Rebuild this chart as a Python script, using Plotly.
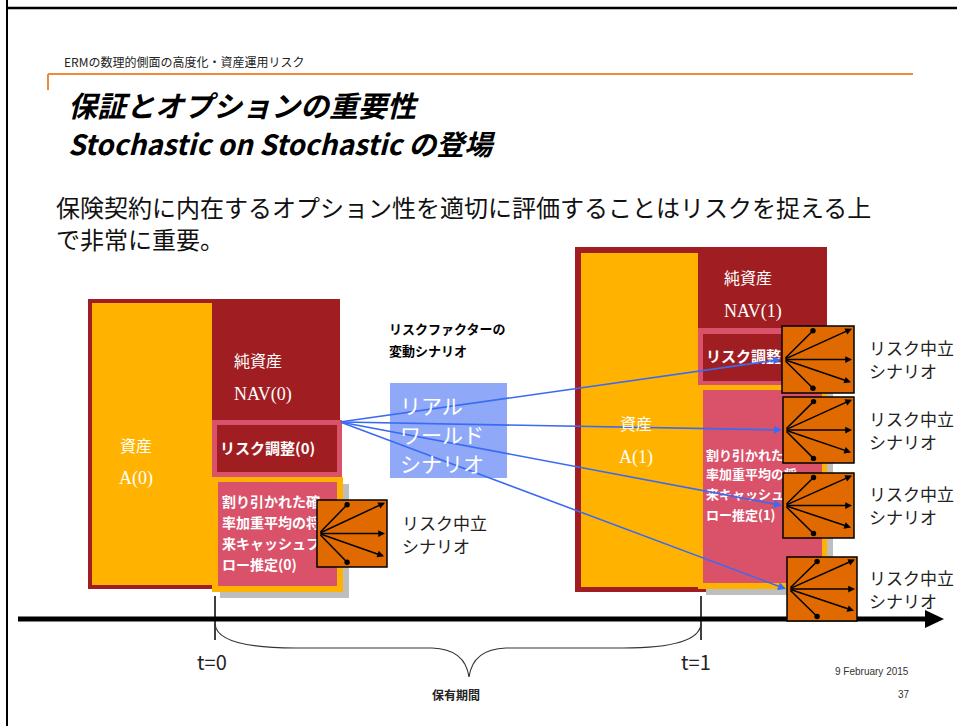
import plotly.graph_objects as go

# ---- text content ----
header_text = "ERMの数理的側面の高度化・資産運用リスク"
title_lines = ["保証とオプションの重要性", "Stochastic on Stochastic の登場"]
body_lines = ["保険契約に内在するオプション性を適切に評価することはリスクを捉える上",
              "で非常に重要。"]
asset_labels = ["資産", "資産"]
asset_codes = ["A(0)", "A(1)"]
nav_labels = ["純資産", "純資産"]
nav_codes = ["NAV(0)", "NAV(1)"]
risk_adj_labels = ["リスク調整(0)", "リスク調整(1)"]
cf_lines_t0 = ["割り引かれた確", "率加重平均の将", "来キャッシュフ", "ロー推定(0)"]
cf_lines_t1 = ["割り引かれた確", "率加重平均の将", "来キャッシュフ", "ロー推定(1)"]
factor_title = ["リスクファクターの", "変動シナリオ"]
real_world = ["リアル", "ワールド", "シナリオ"]
rn_label = ["リスク中立", "シナリオ"]
time_labels = ["t=0", "t=1"]
period_label = "保有期間"
date_label = "9 February 2015"
page_label = "37"

# ---- styles ----
JP = "Noto Sans CJK JP"
SERIF = "Liberation Serif"
YEL = "#FFB300"
DRED = "#A01E22"
PINK = "#D9526A"
GRAY = "#BEBEBE"
ORNG = "#E06A00"
BLUE_BOX = "#8FA9F8"
BLUE_LN = "#3B6BF2"

shapes = []
ann = []


def rect(x0, y0, x1, y1, fill, layer="below", line=None):
    shapes.append(dict(type="rect", xref="x", yref="y", x0=x0, y0=y0, x1=x1, y1=y1,
                       fillcolor=fill, layer=layer,
                       line=line if line else dict(width=0)))


def text(x, y, s, size, color="black", family=JP, xanchor="left", yanchor="middle"):
    ann.append(dict(x=x, y=y, xref="x", yref="y", text=s, showarrow=False,
                    font=dict(size=size, color=color, family=family),
                    xanchor=xanchor, yanchor=yanchor))


# page frame
shapes.append(dict(type="line", x0=7, y0=0, x1=7, y1=726, line=dict(color="black", width=2)))
shapes.append(dict(type="line", x0=7, y0=8, x1=957, y1=8, line=dict(color="black", width=2.5)))
# orange header rule
shapes.append(dict(type="line", x0=48, y0=74, x1=913, y1=74, line=dict(color="#F0893A", width=2)))
shapes.append(dict(type="line", x0=48, y0=74, x1=48, y1=90, line=dict(color="#F0893A", width=2)))

# ---- left block (t=0) ----
rect(88, 299, 340, 589, DRED)
rect(92, 303, 212, 585, YEL)
rect(212, 420, 342, 477, PINK)
rect(217, 425, 337, 472, DRED)
rect(220, 484, 349, 598, GRAY)
rect(212, 477, 343, 592, YEL)
rect(218, 482, 337, 586, PINK)

# ---- right block (t=1) ----
rect(575, 247, 827, 592, DRED)
rect(581, 253, 698, 587, YEL)
rect(698, 328, 826, 385, PINK)
rect(703, 334, 821, 381, DRED)
rect(706, 391, 833, 595, GRAY)
rect(698, 385, 827, 589, YEL)
rect(703, 390, 822, 583, PINK)

# real world scenario box
rect(390, 383, 507, 478, BLUE_BOX)

# timeline
shapes.append(dict(type="line", x0=18, y0=619, x1=930, y1=619, line=dict(color="black", width=5)))
shapes.append(dict(type="path", path="M 925 610 L 944 619 L 925 628 Z", fillcolor="black",
                   line=dict(width=0)))
for tx in (215, 701):
    shapes.append(dict(type="line", x0=tx, y0=596, x1=tx, y1=640, line=dict(color="black", width=1.5)))
shapes.append(dict(type="path",
                   path="M 215 624 Q 217 648 295 648 L 432 648 Q 465 649 469 677 "
                        "Q 473 649 506 648 L 623 648 Q 699 648 701 624",
                   line=dict(color="#333333", width=1.2)))

# orange scenario boxes (drawn above the text layer)
boxes = [(317, 500, 387, 567), (782, 326, 854, 393), (783, 397, 854, 463),
         (783, 473, 854, 538), (787, 557, 857, 621)]
for b in boxes:
    rect(*b, ORNG, layer="above", line=dict(color="black", width=1.5))

# blue lines from risk adjustment to scenario boxes
src = (340, 422)
for b in boxes[1:]:
    ty = (b[1] + b[3]) / 2
    ann.append(dict(x=b[0] - 1, y=ty, ax=src[0], ay=src[1], xref="x", yref="y",
                    axref="x", ayref="y", text="", showarrow=True, arrowhead=2,
                    arrowsize=1, arrowwidth=1.6, arrowcolor=BLUE_LN, standoff=0))

# arrows inside scenario boxes
for (x0, y0, x1, y1) in boxes:
    w, h = x1 - x0, y1 - y0
    ox, oy = x0 + 2, y0 + h / 2
    targets = [(x0 + 0.43 * w, y0 + 0.07 * h, 6), (x1 - 2, y0 + 0.04 * h, 2),
               (x1 - 2, y0 + 0.5 * h, 2), (x1 - 3, y0 + 0.84 * h, 2),
               (x0 + 0.43 * w, y0 + 0.93 * h, 6)]
    for tx, ty, head in targets:
        ann.append(dict(x=tx, y=ty, ax=ox, ay=oy, xref="x", yref="y", axref="x", ayref="y",
                        text="", showarrow=True, arrowhead=head, arrowsize=0.9,
                        arrowwidth=1.5, arrowcolor="black", standoff=0))

# ---- texts ----
text(62, 61, header_text, 12, "#222222")
text(66, 104, "<b><i>" + title_lines[0] + "</i></b>", 29)
text(66, 143, "<b><i>" + title_lines[1] + "</i></b>", 28)
text(54, 206, body_lines[0], 24, "#111111")
text(54, 238, body_lines[1], 24, "#111111")

text(118, 445, asset_labels[0], 16, "white")
text(117, 478, asset_codes[0], 18, "white", SERIF)
text(232, 360, nav_labels[0], 16, "white")
text(232, 394, nav_codes[0], 18, "white", SERIF)

text(618, 423, asset_labels[1], 16, "white")
text(617, 457, asset_codes[1], 18, "white", SERIF)
text(722, 277, nav_labels[1], 16, "white")
text(722, 311, nav_codes[1], 18, "white", SERIF)

text(387, 328, "<b>" + factor_title[0] + "</b>", 13)
text(387, 350, "<b>" + factor_title[1] + "</b>", 13)

for i, s in enumerate(real_world):
    text(398, 405 + 29 * i, s, 21, "white")

text(400, 522, rn_label[0], 17, "#222222")
text(400, 545, rn_label[1], 17, "#222222")
for (x0, y0, x1, y1) in boxes[1:]:
    cy = (y0 + y1) / 2
    text(867, cy - 12, rn_label[0], 17, "#222222")
    text(867, cy + 11, rn_label[1], 17, "#222222")

text(212, 661, time_labels[0], 20, "#222222", xanchor="center")
text(696, 661, time_labels[1], 20, "#222222", xanchor="center")
text(456, 694, "<b>" + period_label + "</b>", 12, "#222222", xanchor="center")
text(872, 671, date_label, 10, "#333333", "Liberation Sans", xanchor="center")
text(904, 694, page_label, 10, "#333333", "Liberation Sans", xanchor="center")

# text that sits under the scenario boxes (data layer)
under_x = [222, 222, 222, 222, 220, 706, 706, 706, 706, 706]
under_y = [503, 524, 545, 566, 450, 457, 476, 496, 517, 358]
under_t = cf_lines_t0 + [risk_adj_labels[0]] + cf_lines_t1 + [risk_adj_labels[1]]
under_t = ["<b>" + s + "</b>" for s in under_t]
sizes = [14] * 4 + [15] + [13] * 4 + [15]

fig = go.Figure()
fig.add_trace(go.Scatter(x=under_x, y=under_y, text=under_t, mode="text",
                         textposition="middle right", hoverinfo="skip",
                         textfont=dict(family=JP, size=sizes, color="white")))

fig.update_layout(
    width=957, height=726, margin=dict(l=0, r=0, t=0, b=0),
    paper_bgcolor="white", plot_bgcolor="white", showlegend=False,
    xaxis=dict(range=[0, 957], visible=False, fixedrange=True),
    yaxis=dict(range=[726, 0], visible=False, fixedrange=True),
    shapes=shapes, annotations=ann,
)
fig.write_html("out.html")
